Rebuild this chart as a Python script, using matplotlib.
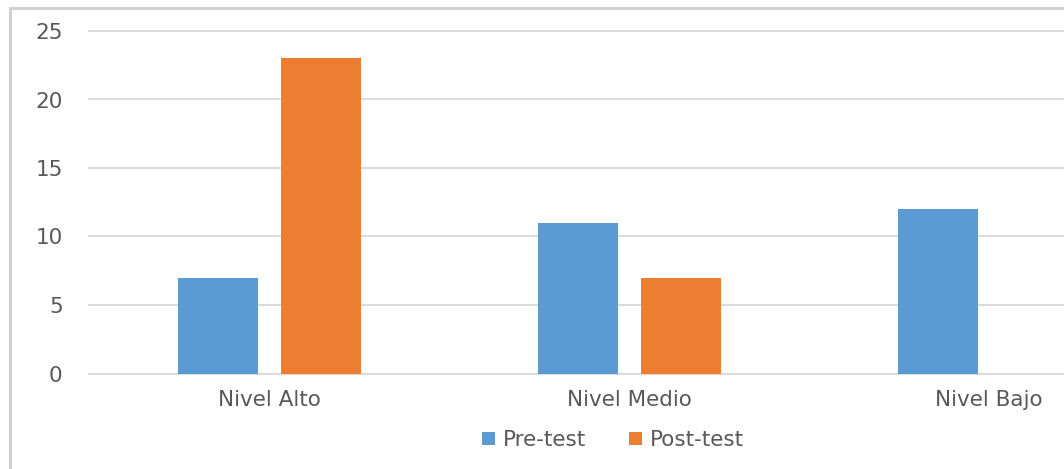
import matplotlib
matplotlib.use('Agg')

import matplotlib.pyplot as plt
import numpy as np
from matplotlib.patches import Rectangle, Patch

plt.rcParams['font.family'] = ['DejaVu Sans']

# counts per level, before and after
niveles = ['Nivel Alto', 'Nivel Medio', 'Nivel Bajo']
pre_test = [7, 11, 12]
post_test = [23, 7, 0]
series_names = ['Pre-test', 'Post-test']
yticks = [0, 5, 10, 15, 20, 25]

BLUE = '#5B9BD5'
ORANGE = '#ED7D31'
GRID = '#d9d9d9'
TEXT = '#595959'
FS = 15.5

W, H = 1064, 469
fig = plt.figure(figsize=(W / 100, H / 100), dpi=100)

# chart area border (extends past the right and bottom edges)
fig.patches.append(Rectangle((10 / W, -0.1), 1.2, (H - 8) / H + 0.1,
                             transform=fig.transFigure, fill=False,
                             edgecolor='#d0d0d0', linewidth=2.2))

# plot area in pixel terms: x from 89 for 3 categories of 360 px, y 0 at 373.5
ax = fig.add_axes([89 / W, (H - 373.5) / H, 1080 / W, (373.5 - 31) / H])

x = np.arange(len(niveles))
bw = 80 / 360
off = (80 + 23) / 2 / 360
ax.bar(x - off, pre_test, bw, color=BLUE, zorder=3)
ax.bar(x + off, post_test, bw, color=ORANGE, zorder=3)

ax.set_xlim(-0.5, 2.5)
ax.set_ylim(0, 25)
ax.set_yticks(yticks)
ax.set_xticks(x)
ax.set_xticklabels(niveles)
ax.yaxis.grid(True, color=GRID, linewidth=1.3, zorder=0, clip_on=False)
ax.set_axisbelow(True)
for s in ax.spines.values():
    s.set_visible(False)
ax.axhline(0, color=GRID, linewidth=1.5, zorder=1)
ax.tick_params(axis='both', length=0, labelsize=FS, colors=TEXT)
ax.tick_params(axis='x', pad=12)
ax.tick_params(axis='y', pad=19)

handles = [Patch(facecolor=BLUE), Patch(facecolor=ORANGE)]
fig.legend(handles, series_names, loc='center', bbox_to_anchor=(613 / W, (H - 440) / H),
           ncol=2, frameon=False, fontsize=FS, labelcolor=TEXT,
           handlelength=0.6, handleheight=0.6, handletextpad=0.35, columnspacing=2.0)

plt.savefig('out.png', dpi=100)
